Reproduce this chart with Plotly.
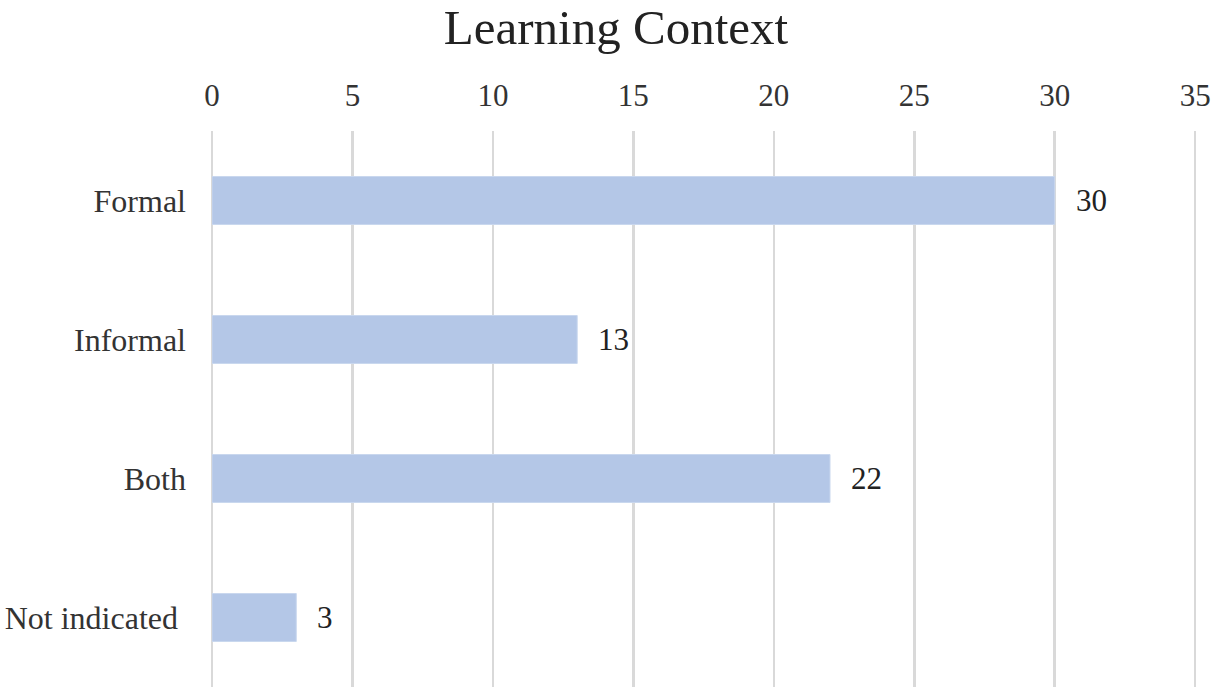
import plotly.graph_objects as go

categories = ["Formal", "Informal", "Both", "Not indicated\u00a0"]
values = [30, 13, 22, 3]
x_ticks = [0, 5, 10, 15, 20, 25, 30, 35]

FONT = "Liberation Serif"
W, H = 1214, 693

fig = go.Figure(go.Bar(
    x=values,
    y=categories,
    orientation="h",
    marker=dict(color="#b4c7e7", line=dict(color="#c9d7ee", width=1)),
    cliponaxis=False,
    hoverinfo="skip",
))

for v, c in zip(values, categories):
    fig.add_annotation(
        x=v, y=c, xref="x", yref="y", text=str(v), showarrow=False,
        xanchor="left", yanchor="middle", xshift=19,
        font=dict(family=FONT, size=31, color="#222222"),
    )

fig.update_layout(
    width=W, height=H,
    paper_bgcolor="white", plot_bgcolor="white",
    margin=dict(l=212, r=16, t=131, b=6),
    bargap=0.655,
    showlegend=False,
    title=dict(text="Learning Context", x=616/W, xanchor="center",
               y=1 - 27/H, yanchor="middle",
               font=dict(family=FONT, size=49, color="#222222")),
    xaxis=dict(
        side="top", range=[0, 35.1], tickvals=x_ticks,
        showgrid=True, gridcolor="#d9d9d9", gridwidth=2.5,
        zeroline=True, zerolinecolor="#d9d9d9", zerolinewidth=2.5,
        showline=False, ticks="", automargin=False,
        ticklabelstandoff=18,
        tickfont=dict(family=FONT, size=31, color="#333333"),
    ),
    yaxis=dict(
        categoryorder="array", categoryarray=categories[::-1],
        showgrid=False, zeroline=False, showline=False, ticks="",
        automargin=False,
        ticklabelstandoff=25,
        tickfont=dict(family=FONT, size=32, color="#333333"),
    ),
)

fig.write_html(
    "out.html",
    config={"displayModeBar": False, "staticPlot": True},
    post_script="document.body.style.margin='0';document.body.style.overflow='hidden';",
)
